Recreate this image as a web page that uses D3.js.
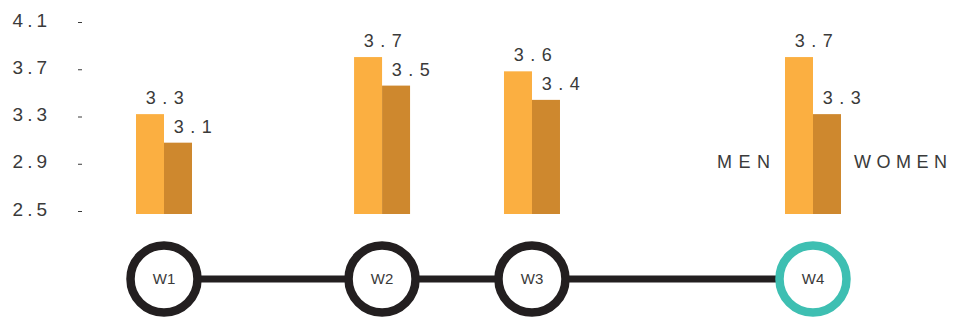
<!DOCTYPE html>
<html>
<head>
<meta charset="utf-8">
<script src="https://cdn.jsdelivr.net/npm/d3@7"></script>
<style>
    body { margin: 0; background: #fff; }
    svg { display: block; font-family: "Liberation Sans", Arial, sans-serif; }
</style>
</head>
<body>
<svg id="chart" width="953" height="318"></svg>
<script>
"use strict";
// data
const weeks = ["W1", "W2", "W3", "W4"];
const menScores = [3.3, 3.7, 3.6, 3.7];
const womenScores = [3.1, 3.5, 3.4, 3.3];
const tickValues = [2.5, 2.9, 3.3, 3.7, 4.1];
const weekAlong = [0, 0.336, 0.567, 1]; // where each week sits on the timeline
const seriesNames = ["MEN", "WOMEN"];
const currentWeek = "W4";

const svg = d3.select("#chart");
const textColor = "#3a3a3a";
const barWidth = 28;

const x = d3.scaleLinear().domain([0, 1]).range([164, 813]);
const yAxisScale = d3.scaleLinear().domain([2.5, 4.1]).range([209, 20]);
const yBar = d3.scaleLinear().domain([2.6, 4.1]).range([214, 0]);

// y axis, labels left and a little dash on the right
const axis = svg.append("g")
    .attr("transform", "translate(82,0)")
    .call(d3.axisLeft(yAxisScale).tickValues(tickValues).tickSize(4).tickPadding(27)
        .tickFormat(d3.format(".1f")));
axis.select(".domain").remove();
axis.selectAll(".tick line")
    .attr("stroke", textColor)
    .attr("transform", "translate(0,2)");
axis.selectAll(".tick text")
    .attr("fill", textColor)
    .attr("font-size", 19)
    .attr("letter-spacing", 4)
    .attr("font-family", "Liberation Sans, Arial, sans-serif");

// timeline
const timeline = svg.append("g");
const cy = 279;
timeline.append("line")
    .attr("x1", x(weekAlong[0]))
    .attr("x2", x(weekAlong[weekAlong.length - 1]))
    .attr("y1", cy).attr("y2", cy)
    .attr("stroke", "#231f20")
    .attr("stroke-width", 7);
const nodes = timeline.selectAll("g.week")
    .data(weeks)
    .join("g")
    .attr("class", "week")
    .attr("transform", (w, i) => `translate(${x(weekAlong[i])},${cy})`);
nodes.append("circle")
    .attr("r", 33.5)
    .attr("fill", "#fff")
    .attr("stroke", (w) => w == currentWeek ? "#3ebfb2" : "#231f20")
    .attr("stroke-width", 8.5);
nodes.append("text")
    .attr("text-anchor", "middle")
    .attr("dy", "0.35em")
    .attr("font-size", 15)
    .attr("fill", textColor)
    .text((w) => w);

// bars
const bars = [];
weeks.forEach((w, i) => {
    bars.push({ week: w, i: i, series: 0, value: menScores[i] });
    bars.push({ week: w, i: i, series: 1, value: womenScores[i] });
});
const barColors = ["#fbaf41", "#ce882e"];
const barLeft = (b) => x(weekAlong[b.i]) + (b.series == 0 ? -barWidth : 0);

svg.append("g").selectAll("rect")
    .data(bars)
    .join("rect")
    .attr("x", barLeft)
    .attr("width", barWidth)
    .attr("y", (b) => yBar(b.value))
    .attr("height", (b) => yBar.range()[0] - yBar(b.value))
    .attr("fill", (b) => barColors[b.series]);

svg.append("g").selectAll("text")
    .data(bars)
    .join("text")
    .attr("x", (b) => barLeft(b) + barWidth + 4)
    .attr("y", (b) => yBar(b.value) - 10)
    .attr("text-anchor", "middle")
    .attr("font-size", 18)
    .attr("letter-spacing", 6.5)
    .attr("fill", textColor)
    .text((b) => d3.format(".1f")(b.value));

// legend beside the last pair
const lastX = x(weekAlong[weekAlong.length - 1]);
svg.append("text")
    .attr("x", lastX - barWidth - 15 + 6.5)
    .attr("y", 168)
    .attr("text-anchor", "end")
    .attr("font-size", 18)
    .attr("letter-spacing", 6.5)
    .attr("fill", textColor)
    .text(seriesNames[0]);
svg.append("text")
    .attr("x", lastX + barWidth + 13)
    .attr("y", 168)
    .attr("font-size", 18)
    .attr("letter-spacing", 5.5)
    .attr("fill", textColor)
    .text(seriesNames[1]);
</script>
</body>
</html>
